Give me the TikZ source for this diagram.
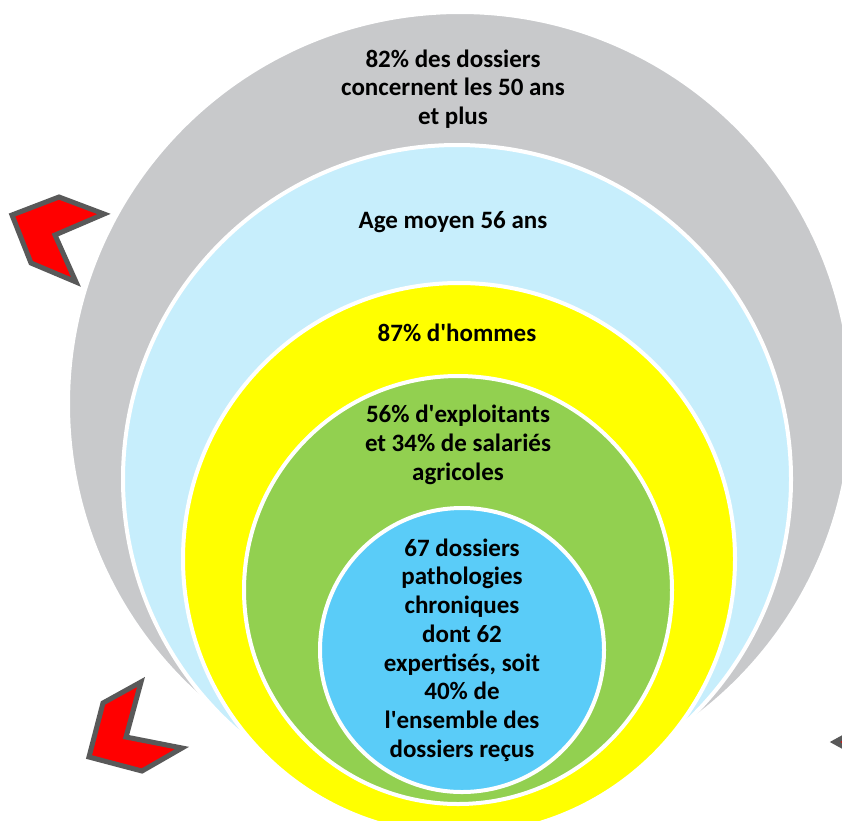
\documentclass[tikz,border=0pt]{standalone}
\usepackage{fontspec}
\setmainfont{Carlito}
\usetikzlibrary{positioning}

\definecolor{ringgray}{RGB}{200,201,203}
\definecolor{ringsky}{RGB}{199,238,252}
\definecolor{ringyellow}{RGB}{255,255,0}
\definecolor{ringgreen}{RGB}{146,208,80}
\definecolor{ringblue}{RGB}{90,204,248}
\definecolor{chevgray}{RGB}{89,89,89}

\begin{document}
\begin{tikzpicture}[x=1pt,y=-1pt,on grid,
   ring/.style={circle,draw=white,line width=4pt,inner sep=0pt,outer sep=0pt,minimum size=#1},
   txt/.style={align=center,text=black,font=\fontsize{25}{28.7}\selectfont\bfseries},
   chevron/.style={fill=red,draw=chevgray,line width=5pt,line join=miter}]

   \useasboundingbox (0,0) rectangle (842,820);
   \clip (0,0) rectangle (842,820);

   % rings, outermost first
   \node[ring=784pt,fill=ringgray]   (gray)   at (460,404) {};
   \node[ring=668pt,fill=ringsky]    (sky)    at (457,479) {};
   \node[ring=552pt,fill=ringyellow] (yellow) at (459,559) {};
   \node[ring=428pt,fill=ringgreen]  (green)  at (458,590) {};
   \node[ring=284pt,fill=ringblue]   (blue)   at (462,650) {};

   \node[txt] (graytxt)   [below=77pt of gray.north,anchor=center,xshift=-7pt] {82\% des dossiers\\concernent les 50 ans\\et plus};
   \node[txt] (skytxt)    [below=77pt of sky.north,anchor=center,xshift=-4pt]  {Age moyen 56 ans};
   \node[txt] (yellowtxt) [below=50pt of yellow.north,anchor=center,xshift=-2pt] {87\% d\textquotesingle hommes};
   \node[txt] (greentxt)  [below=69pt of green.north,anchor=center]  {56\% d\textquotesingle exploitants\\et 34\% de salariés\\agricoles};
   \node[txt] (bluetxt)   at (blue) {67 dossiers\\pathologies\\chroniques\\dont 62\\expertisés, soit\\40\% de\\l\textquotesingle ensemble des\\dossiers reçus};

   % chevrons
   \draw[chevron] (12,215) -- (59,197) -- (104,214) -- (55,235) -- (76,282) -- (31,263) -- cycle;
   \draw[chevron] (141,682) -- (126,737) -- (182,748) -- (142,771) -- (89,757) -- (103,703) -- cycle;
   \draw[chevron] (835,742) -- (875,720) -- (905,720) -- (868,742) -- (905,764) -- (875,764) -- cycle;

\end{tikzpicture}
\end{document}
